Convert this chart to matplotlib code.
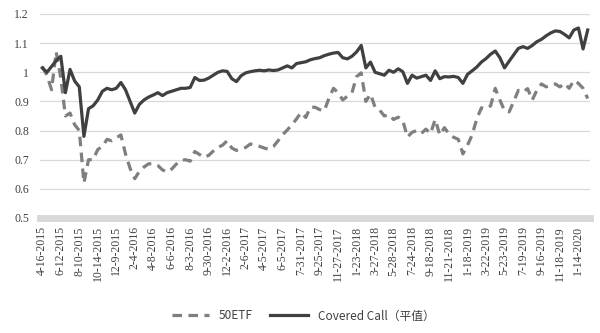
import matplotlib
matplotlib.use('Agg')
import matplotlib.pyplot as plt
import numpy as np

# tick labels along the category axis (every 4th sample)
dates = ['4-16-2015', '6-12-2015', '8-10-2015', '10-14-2015', '12-9-2015',
         '2-4-2016', '4-8-2016', '6-6-2016', '8-3-2016', '9-30-2016',
         '12-2-2016', '2-6-2017', '4-5-2017', '6-5-2017', '7-31-2017',
         '9-25-2017', '11-27-2017', '1-23-2018', '3-27-2018', '5-28-2018',
         '7-24-2018', '9-18-2018', '11-21-2018', '1-18-2019', '3-22-2019',
         '5-23-2019', '7-19-2019', '9-16-2019', '11-18-2019', '1-14-2020']

etf50 = [1.02, 0.99, 0.94, 1.07, 0.98, 0.85, 0.86, 0.82, 0.80, 0.62,
         0.70, 0.70, 0.735, 0.745, 0.77, 0.765, 0.775, 0.785, 0.72, 0.67,
         0.635, 0.66, 0.675, 0.686, 0.686, 0.68, 0.665, 0.658, 0.668, 0.685,
         0.698, 0.70, 0.695, 0.728, 0.718, 0.708, 0.715, 0.73, 0.742, 0.75,
         0.765, 0.74, 0.732, 0.736, 0.742, 0.754, 0.75, 0.746, 0.74, 0.736,
         0.745, 0.765, 0.786, 0.802, 0.82, 0.84, 0.862, 0.845, 0.88, 0.88,
         0.872, 0.868, 0.91, 0.945, 0.93, 0.905, 0.918, 0.93, 0.985, 0.998,
         0.90, 0.925, 0.88, 0.87, 0.85, 0.855, 0.838, 0.846, 0.834, 0.778,
         0.794, 0.80, 0.79, 0.805, 0.79, 0.838, 0.785, 0.81, 0.788, 0.777,
         0.77, 0.72, 0.75, 0.785, 0.84, 0.878, 0.875, 0.885, 0.945, 0.905,
         0.868, 0.864, 0.90, 0.938, 0.932, 0.944, 0.905, 0.938, 0.96, 0.95,
         0.955, 0.96, 0.95, 0.962, 0.945, 0.972, 0.962, 0.945, 0.91]

covered_call = [1.015, 1.00, 1.02, 1.04, 1.055, 0.93, 1.01, 0.97, 0.95, 0.78,
                0.875, 0.885, 0.905, 0.935, 0.945, 0.94, 0.945, 0.965, 0.94, 0.90,
                0.86, 0.89, 0.905, 0.915, 0.922, 0.93, 0.92, 0.93, 0.935, 0.94,
                0.945, 0.945, 0.948, 0.982, 0.972, 0.973, 0.98, 0.99, 1.00, 1.005,
                1.003, 0.978, 0.968, 0.988, 0.998, 1.002, 1.005, 1.007, 1.005, 1.008,
                1.006, 1.008, 1.015, 1.022, 1.015, 1.03, 1.033, 1.036, 1.043, 1.047,
                1.05, 1.057, 1.062, 1.066, 1.068, 1.05, 1.046, 1.055, 1.07, 1.092,
                1.015, 1.035, 1.00, 0.995, 0.99, 1.007, 1.00, 1.012, 1.002, 0.962,
                0.99, 0.98, 0.985, 0.99, 0.972, 1.005, 0.978, 0.985, 0.984, 0.986,
                0.982, 0.962, 0.993, 1.005, 1.018, 1.035, 1.047, 1.062, 1.073, 1.05,
                1.015, 1.038, 1.06, 1.082, 1.088, 1.082, 1.092, 1.105, 1.113, 1.125,
                1.135, 1.142, 1.14, 1.13, 1.118, 1.145, 1.152, 1.08, 1.145]

x = np.arange(len(etf50))

fig = plt.figure(figsize=(6, 3.33), dpi=100)
ax = fig.add_axes([40 / 600, 1 - 218 / 333, 550 / 600, 204 / 333])

ax.plot(x, etf50, color='#7f7f7f', lw=2.3, linestyle=(0, (3, 2)), label='50ETF')
ax.plot(x, covered_call, color='#404040', lw=2.3, label='Covered Call（平值）')

ax.set_ylim(0.5, 1.2)
ax.set_xlim(-0.5, len(x) - 0.5)
yt = [0.5, 0.6, 0.7, 0.8, 0.9, 1.0, 1.1, 1.2]
ax.set_yticks(yt)
ax.set_yticklabels(['0.5', '0.6', '0.7', '0.8', '0.9', '1', '1.1', '1.2'],
                   family='Liberation Serif', fontsize=8.5, color='#404040')
for v in yt[1:]:
    ax.axhline(v, color='#d9d9d9', lw=0.9, zorder=0)
# thick light axis band at the bottom
ax.axhline(0.5, color='#d9d9d9', lw=5, zorder=0, clip_on=False)

ax.set_xticks(x[::4])
ax.set_xticklabels(dates, rotation=90, family='Liberation Serif',
                   fontsize=8.5, color='#404040')
ax.tick_params(length=0)
ax.tick_params(axis='x', pad=6)
ax.tick_params(axis='y', pad=8)
for s in ax.spines.values():
    s.set_visible(False)

fig.legend(loc='lower center', bbox_to_anchor=(0.505, 0.0), ncol=2, frameon=False,
           prop={'family': ['Noto Sans CJK SC', 'DejaVu Sans'], 'size': 8.5},
           handlelength=3.2, columnspacing=1.5, labelcolor='#404040')

fig.savefig('out.png', dpi=100)
